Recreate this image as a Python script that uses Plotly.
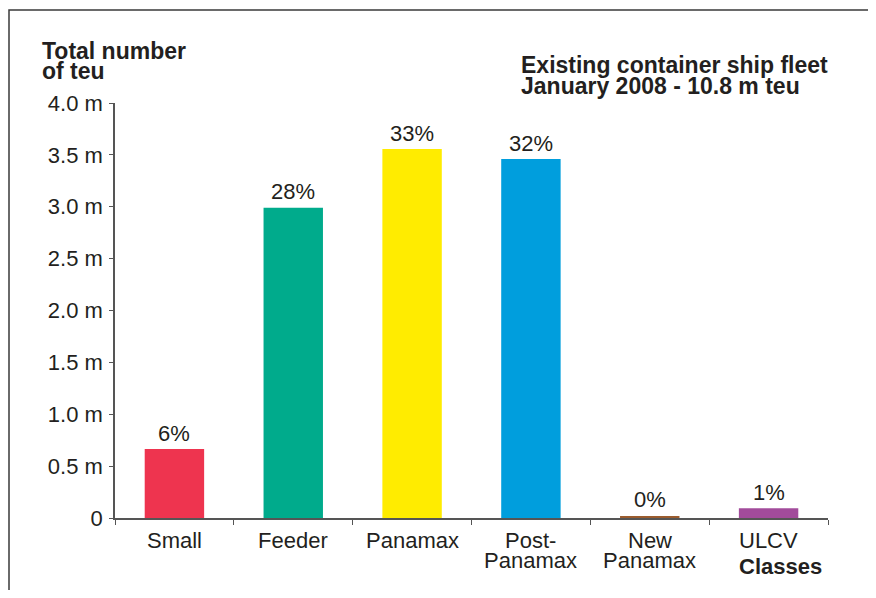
import plotly.graph_objects as go

categories = ["Small", "Feeder", "Panamax", "Post-Panamax", "New Panamax", "ULCV"]
label_lines = [["Small"], ["Feeder"], ["Panamax"], ["Post-", "Panamax"], ["New", "Panamax"], ["ULCV"]]
values = [0.665, 2.99, 3.556, 3.46, 0.02, 0.094]
shares = ["6%", "28%", "33%", "32%", "0%", "1%"]
colors = ["#EE344F", "#00AB8C", "#FFEC00", "#009EDD", "#9B5C2E", "#A24B9B"]
ytick_vals = [0, 0.5, 1.0, 1.5, 2.0, 2.5, 3.0, 3.5, 4.0]
ytick_text = ["0", "0.5 m", "1.0 m", "1.5 m", "2.0 m", "2.5 m", "3.0 m", "3.5 m", "4.0 m"]

# page body has an 8px margin; lay out in reference-pixel coordinates shifted by it
OFF = 8
W, H = 860, 582
L, T = 115 - OFF, 103 - OFF
R = W - (828 - OFF)
B = H - (518 - OFF)
PW, PH = W - L - R, H - T - B

def px(x):
    return (x - OFF - L) / PW

def py(y):
    return (H - B - (y - OFF)) / PH

FONT = "Liberation Sans, Arial, Helvetica, sans-serif"
TXT = "#231F20"
FS = 22
FSB = 23

fig = go.Figure(go.Bar(
    x=categories, y=values, marker=dict(color=colors, line=dict(width=0)),
    width=0.5, hoverinfo="skip"))

ann = []
for c, v, s in zip(categories, values, shares):
    ann.append(dict(x=c, y=v, xref="x", yref="y", text=s, showarrow=False,
                    yanchor="middle", yshift=16, font=dict(size=FS, color=TXT)))
for c, lines in zip(categories, label_lines):
    for i, ln in enumerate(lines):
        ann.append(dict(x=c, xref="x", y=py(540 + 20 * i), yref="paper", text=ln,
                        showarrow=False, yanchor="middle", font=dict(size=FS, color=TXT)))
ann.append(dict(x=px(780), y=py(566), xref="paper", yref="paper", text="<b>Classes</b>",
                showarrow=False, xanchor="center", yanchor="middle", font=dict(size=FS, color=TXT)))
for txt, yy in [("Total number", 51), ("of teu", 71)]:
    ann.append(dict(x=px(40), y=py(yy), xref="paper", yref="paper", text=f"<b>{txt}</b>",
                    showarrow=False, xanchor="left", yanchor="middle", font=dict(size=FSB, color=TXT)))
for txt, yy in [("Existing container ship fleet", 65), ("January 2008 - 10.8 m teu", 86)]:
    ann.append(dict(x=px(519), y=py(yy), xref="paper", yref="paper", text=f"<b>{txt}</b>",
                    showarrow=False, xanchor="left", yanchor="middle", font=dict(size=FSB, color=TXT)))

fig.update_layout(
    width=W, height=H,
    margin=dict(l=L, r=R, t=T, b=B, autoexpand=False),
    paper_bgcolor="white", plot_bgcolor="white",
    font=dict(family=FONT, size=FS, color=TXT),
    showlegend=False,
    annotations=ann,
    shapes=[dict(type="rect", xref="paper", yref="paper",
                 x0=px(9), x1=px(900), y0=py(640), y1=py(10),
                 line=dict(color="#3a3a3a", width=1.5), fillcolor="rgba(0,0,0,0)", layer="below")],
    xaxis=dict(type="category", range=[-0.5, 5.5], showticklabels=False, tickson="boundaries",
               ticks="outside", ticklen=5, tickcolor="#555", tickwidth=1.3,
               showline=True, linecolor="#555", linewidth=1.5, showgrid=False, zeroline=False,
               fixedrange=True),
    yaxis=dict(range=[0, 4], tickvals=ytick_vals, ticktext=ytick_text,
               ticks="outside", ticklen=4, tickcolor="#555", tickwidth=1.3,
               ticklabelstandoff=2,
               showline=True, linecolor="#555", linewidth=1.5, showgrid=False, zeroline=False,
               tickfont=dict(size=FS, color=TXT), fixedrange=True),
)

fig.write_html("out.html")
